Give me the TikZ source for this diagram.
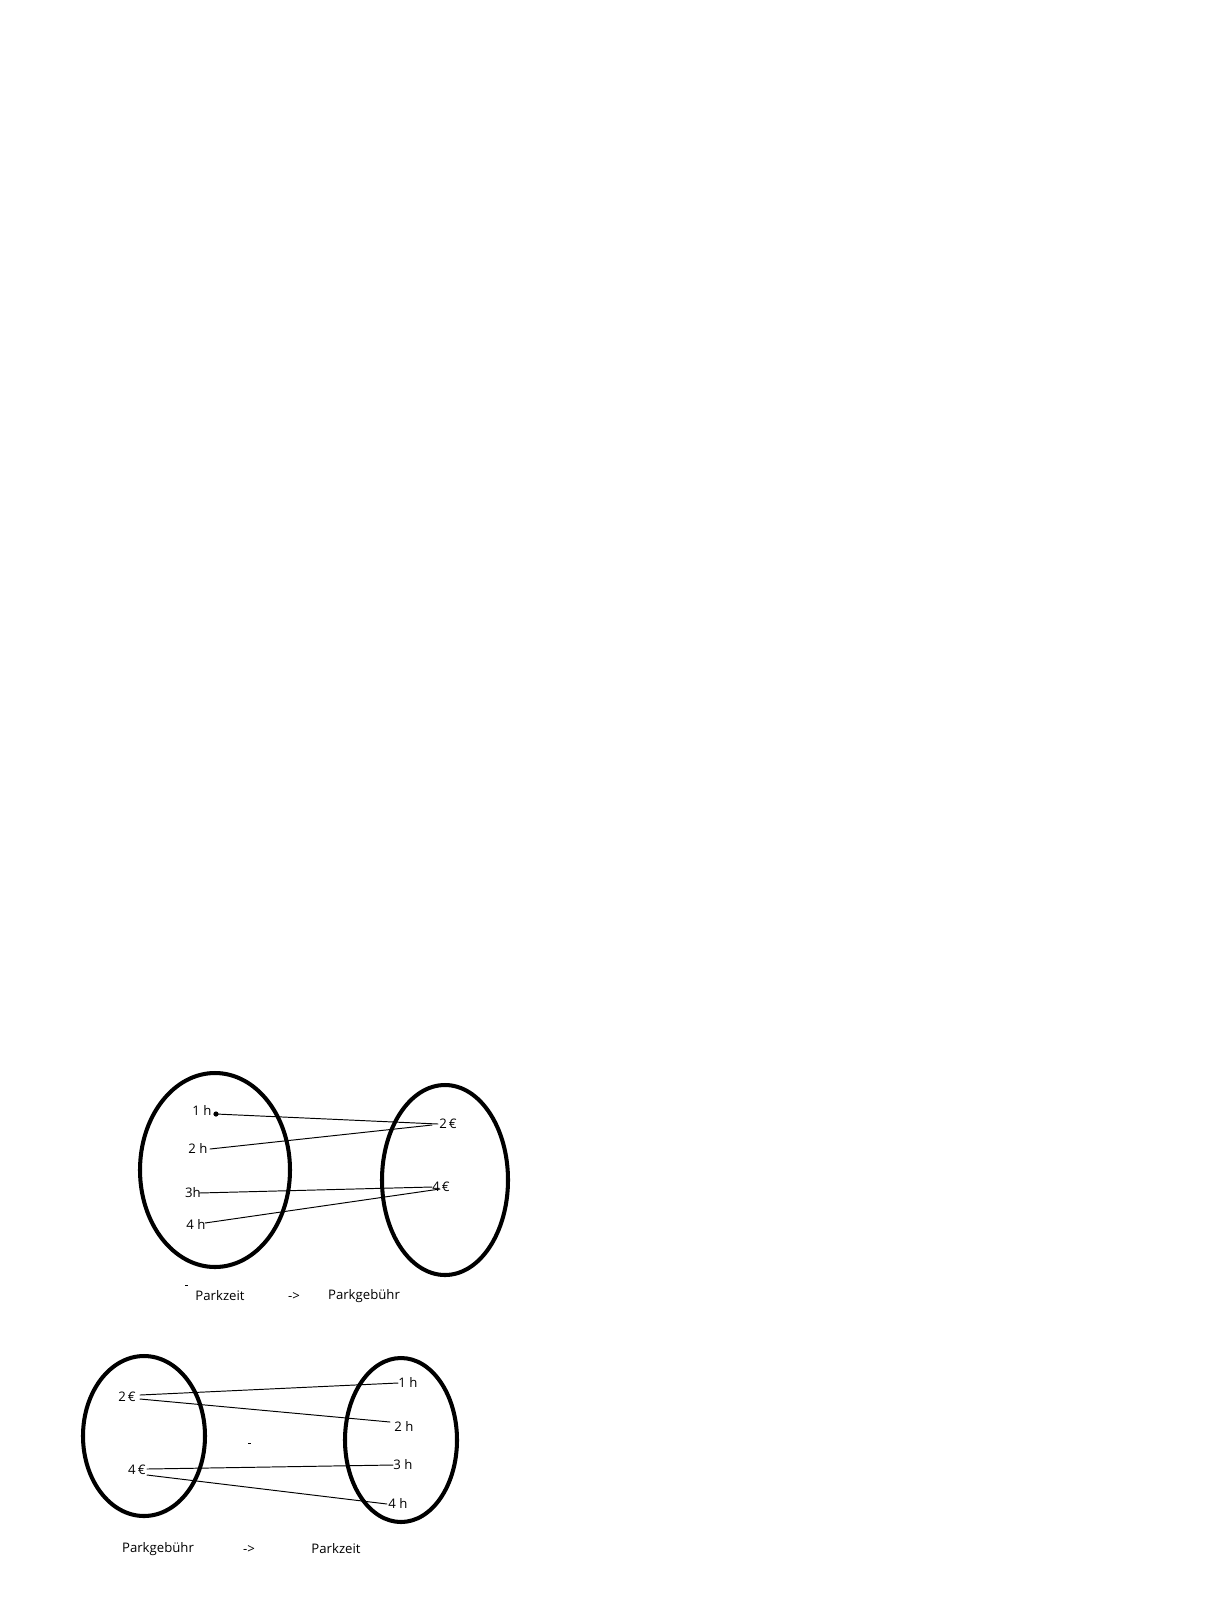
\documentclass[tikz,border=0pt]{standalone}
\usepackage{fontspec}
\setmainfont{Open Sans}
\usepackage{tikz}
\usepackage{tkz-euclide}
\tikzset{set/.style={line width=2.3pt},map line/.style={line width=0.55pt},small label/.style={font=\fontsize{7.5}{9}\selectfont,inner sep=0pt}}

\begin{document}
\begin{tikzpicture}[x=0.02cm,y=-0.02cm,small label]
				\useasboundingbox[fill=white] (0,0) rectangle (1210,1613);
				% Parkzeit -> Parkgebuehr
				\draw[set] (215,1170) ellipse (75 and 97);
				\draw[set] (445,1180) ellipse (63 and 95);
				\node (A1) at (202,1110) {1 h};
				\node (A2) at (198,1148) {2 h};
				\node (A3) at (193,1193) {3h};
				\node (A4) at (196,1224) {4 h};
				\node (B1) at (448,1124) {2\,€};
				\node (B2) at (441,1187) {4\,€};
				\tkzDefPoint(216,1114){a1}
				\tkzDefPoint(210,1149){a2}
				\tkzDefPoint(199,1193){a3}
				\tkzDefPoint(205,1223){a4}
				\tkzDefPoint(438,1124){b1}
				\tkzDefPoint(432,1125){b1'}
				\tkzDefPoint(432,1187){b2}
				\tkzDefPoint(440,1189){b2'}
				\tkzDrawSegments[map line](a1,b1 a2,b1' a3,b2 a4,b2')
				\fill (a1) circle (2.6);
				\draw[map line] (185,1285) -- (188,1285);
				\node (P1) at (220,1296) {Parkzeit};
				\node (R1) at (294,1296) {->};
				\node (Q1) at (364,1296) {Parkgebühr};
				% Parkgebuehr -> Parkzeit
				\draw[set] (144,1436) ellipse (61 and 80);
				\draw[set] (401,1440) ellipse (56 and 82);
				\node (C1) at (127,1397) {2\,€};
				\node (C2) at (137,1470) {4\,€};
				\node (D1) at (408,1382) {1 h};
				\node (D2) at (404,1426) {2 h};
				\node (D3) at (403,1465) {3 h};
				\node (D4) at (398,1503) {4 h};
				\tkzDefPoint(140,1395){c1}
				\tkzDefPoint(140,1399){c1'}
				\tkzDefPoint(147,1469){c2}
				\tkzDefPoint(147,1475){c2'}
				\tkzDefPoint(398,1383){d1}
				\tkzDefPoint(390,1422){d2}
				\tkzDefPoint(393,1465){d3}
				\tkzDefPoint(387,1504){d4}
				\tkzDrawSegments[map line](c1,d1 c1',d2 c2,d3 c2',d4)
				\draw[map line] (248,1443) -- (251,1443);
				\node (P2) at (158,1549) {Parkgebühr};
				\node (R2) at (249,1549) {->};
				\node (Q2) at (336,1549) {Parkzeit};
			\end{tikzpicture}
\end{document}
